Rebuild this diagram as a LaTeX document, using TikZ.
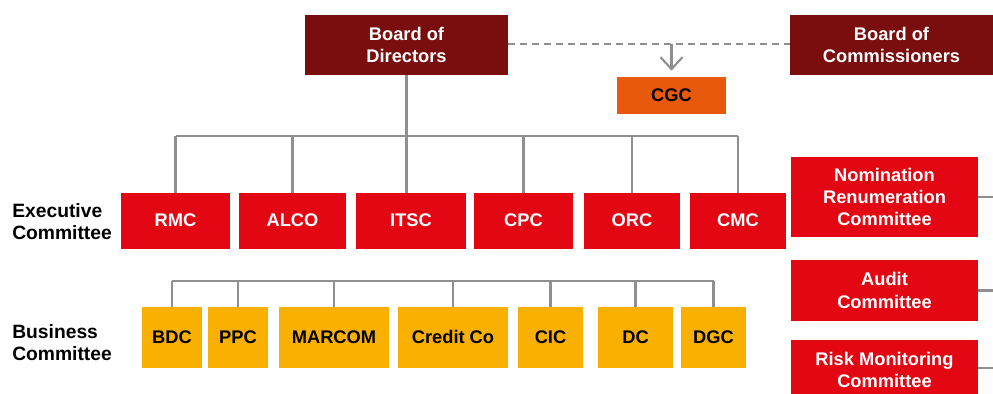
\documentclass[tikz,border=0pt]{standalone}
\usepackage{fontspec}
\setmainfont{Liberation Sans}
\usetikzlibrary{arrows.meta, positioning, calc}
\definecolor{cdark}{HTML}{7A0E0E}
\definecolor{cred}{HTML}{E30613}
\definecolor{corange}{HTML}{E8590C}
\definecolor{cyellow}{HTML}{F9B000}
\definecolor{cgrey}{HTML}{8F8F8F}
\tikzset{
  every picture/.style={x=0.025cm, y=-0.025cm, font=\bfseries\fontsize{13}{15.8}\selectfont},
  box/.style={fill=#1, text=white, align=center, inner sep=2pt},
  box/.default=cred,
  oneline/.style={text height=0.8em, text depth=0em},
  darkbox/.style={box=cdark, minimum width=203*0.025cm, minimum height=60*0.025cm},
  link/.style={draw=cgrey, line width=1.5pt},
  dashlink/.style={link, dash pattern=on 0.175cm off 0.125cm},
  arrow/.style={link, -{Straight Barb[length=3mm, width=5.5mm, line width=1.5pt]}, shorten >=0.15cm},
  rowlabel/.style={anchor=west, align=left, text=black, inner sep=0pt, font=\bfseries\fontsize{13.7}{15.8}\selectfont},
}
\begin{document}
\begin{tikzpicture}
  \useasboundingbox (0,0) rectangle (993,394);
  % boards
  \node[darkbox] (bod) at (406.5,45) {Board of\\Directors};
  \node[darkbox] (boc) at (891.5,45) {Board of\\Commissioners};
  \node[box=corange, oneline, text=black, minimum width=109*0.025cm, minimum height=37*0.025cm] (cgc) at (671.5,95.5) {CGC};
  \coordinate (dashy) at (0,44);
  \draw[dashlink] (bod.east |- dashy) -- (boc.west |- dashy);
  \draw[arrow] (cgc.north |- dashy) -- (cgc.north);
  % row labels
  \node[rowlabel] (exlabel) at (12,222) {Executive\\Committee};
  \node[rowlabel] (bslabel) at (12,343) {Business\\Committee};
  % executive committee
  \foreach \c/\w/\n/\t in {175.5/109/rmc/RMC, 292.5/107/alco/ALCO, 411/110/itsc/ITSC, 523.5/99/cpc/CPC, 632/96/orc/ORC, 738/96/cmc/CMC}
    { \node[box, oneline, minimum width=\w*0.025cm, minimum height=56*0.025cm] (\n) at (\c,221) {\t}; }
  \coordinate (exbar) at (0,136);
  \draw[link] (bod.south) -- (bod.south |- exbar);
  \draw[link] (rmc.north |- exbar) -- (cmc.north |- exbar);
  \draw[link] (bod.south |- exbar) -- (bod.south |- itsc.north);
  \foreach \n in {rmc, alco, cpc, orc, cmc}
    { \draw[link] (\n.north |- exbar) -- (\n.north); }
  % business committee
  \foreach \c/\w/\n/\t in {172/60/bdc/BDC, 238/60/ppc/PPC, 334/110/marcom/MARCOM, 453/110/credit/Credit Co, 550.5/65/cic/CIC, 635.5/75/dc/DC, 713.5/65/dgc/DGC}
    { \node[box=cyellow, oneline, text=black, minimum width=\w*0.025cm, minimum height=61*0.025cm] (\n) at (\c,337.5) {\t}; }
  \coordinate (bsbar) at (0,281);
  \draw[link] (bdc.north |- bsbar) -- (dgc.north |- bsbar);
  \foreach \n in {bdc, ppc, marcom, credit, cic, dc, dgc}
    { \draw[link] (\n.north |- bsbar) -- (\n.north); }
  % board of commissioners committees
  \node[box, minimum width=187*0.025cm, minimum height=80*0.025cm] (nrc) at (884.5,197) {Nomination\\Renumeration\\Committee};
  \node[box, minimum width=187*0.025cm, minimum height=61*0.025cm] (audit) at (884.5,290.5) {Audit\\Committee};
  \node[box, minimum width=187*0.025cm, minimum height=61*0.025cm] (risk) at (884.5,370) {Risk Monitoring\\Committee};
  \coordinate (nrcend) at (993,197);
  \coordinate (auditend) at (993,290.5);
  \coordinate (riskend) at (993,368);
  \draw[link] (nrc.east) -- (nrcend);
  \draw[link] (audit.east) -- (auditend);
  \draw[link] (risk.east |- riskend) -- (riskend);
\end{tikzpicture}
\end{document}
